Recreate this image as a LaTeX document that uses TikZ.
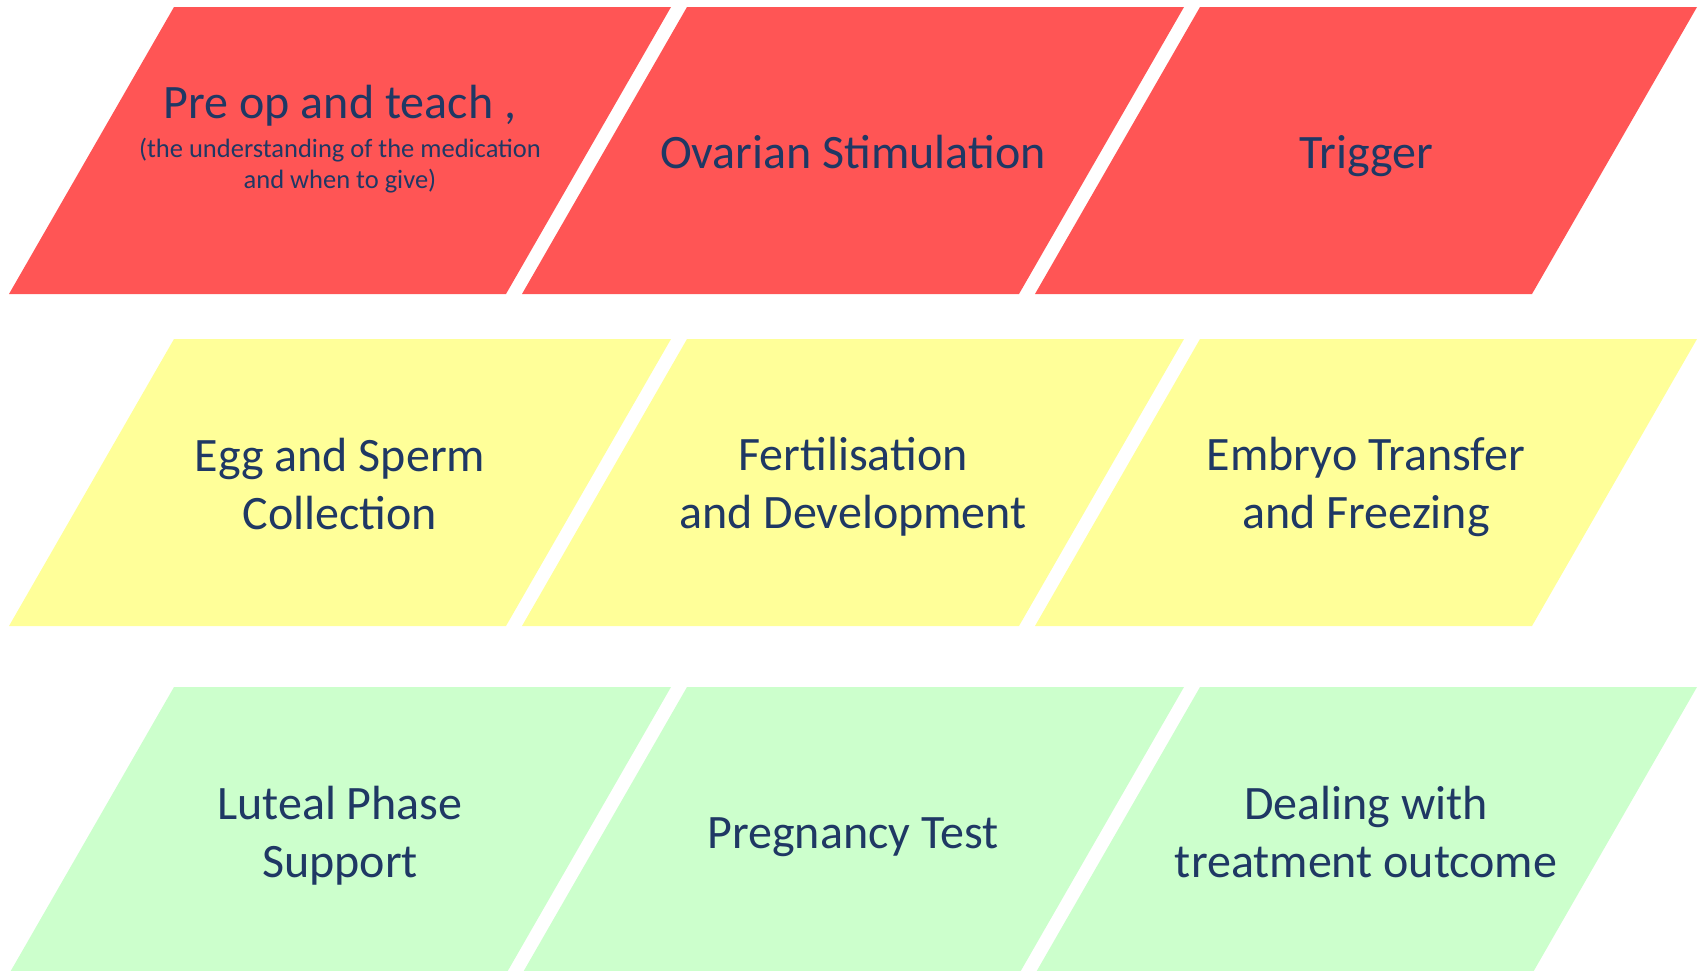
\documentclass[tikz,border=0pt]{standalone}
\usepackage{fontspec}
\setmainfont{Carlito}
\definecolor{redf}{HTML}{FF5555}
\definecolor{yelf}{HTML}{FFFF99}
\definecolor{grnf}{HTML}{CCFFCC}
\definecolor{txt}{HTML}{1F3864}
\begin{document}
\begin{tikzpicture}[x=1pt,y=-1pt,
  lbl/.style={text=txt, align=center, inner sep=0pt, font=\fontsize{48}{58}\selectfont},
  one/.style={lbl, text height=35pt, text depth=0pt},
  small/.style={text=txt, inner sep=0pt, anchor=base, font=\fontsize{26.5}{31}\selectfont}]
\useasboundingbox (0,0) rectangle (1703,970);
\clip (0,0) rectangle (1703,970);
\foreach \top/\col in {7/redf, 339/yelf, 687/grnf}
  \foreach \i in {0,1,2}
    \fill[\col] ({174+513*\i},\top) -- ++(497,0) -- ++(-165,287) -- ++(-497,0) -- cycle;
% row 1
\node[lbl, anchor=base] (n11) at (340,118) {Pre op and teach ,};
\node[small] (n11s) at (340,157) {\begin{tabular}[t]{@{}c@{}}(the understanding of the medication\\ and when to give)\end{tabular}};
\node[one] (n12) at (853,150.5) {Ovarian Stimulation};
\node[one] (n13) at (1366,150.5) {Trigger};
% row 2
\node[lbl] (n21) at (340,484.5) {Egg and Sperm\\Collection};
\node[lbl] (n22) at (853,486.5) {Fertilisation\\and Development};
\node[lbl] (n23) at (1366,486.5) {Embryo Transfer\\and Freezing};
% row 3
\node[lbl] (n31) at (340,836) {Luteal Phase\\Support};
\node[one] (n32) at (853,830.5) {Pregnancy Test};
\node[lbl] (n33) at (1366,832) {Dealing with\\treatment outcome};
\end{tikzpicture}
\end{document}
